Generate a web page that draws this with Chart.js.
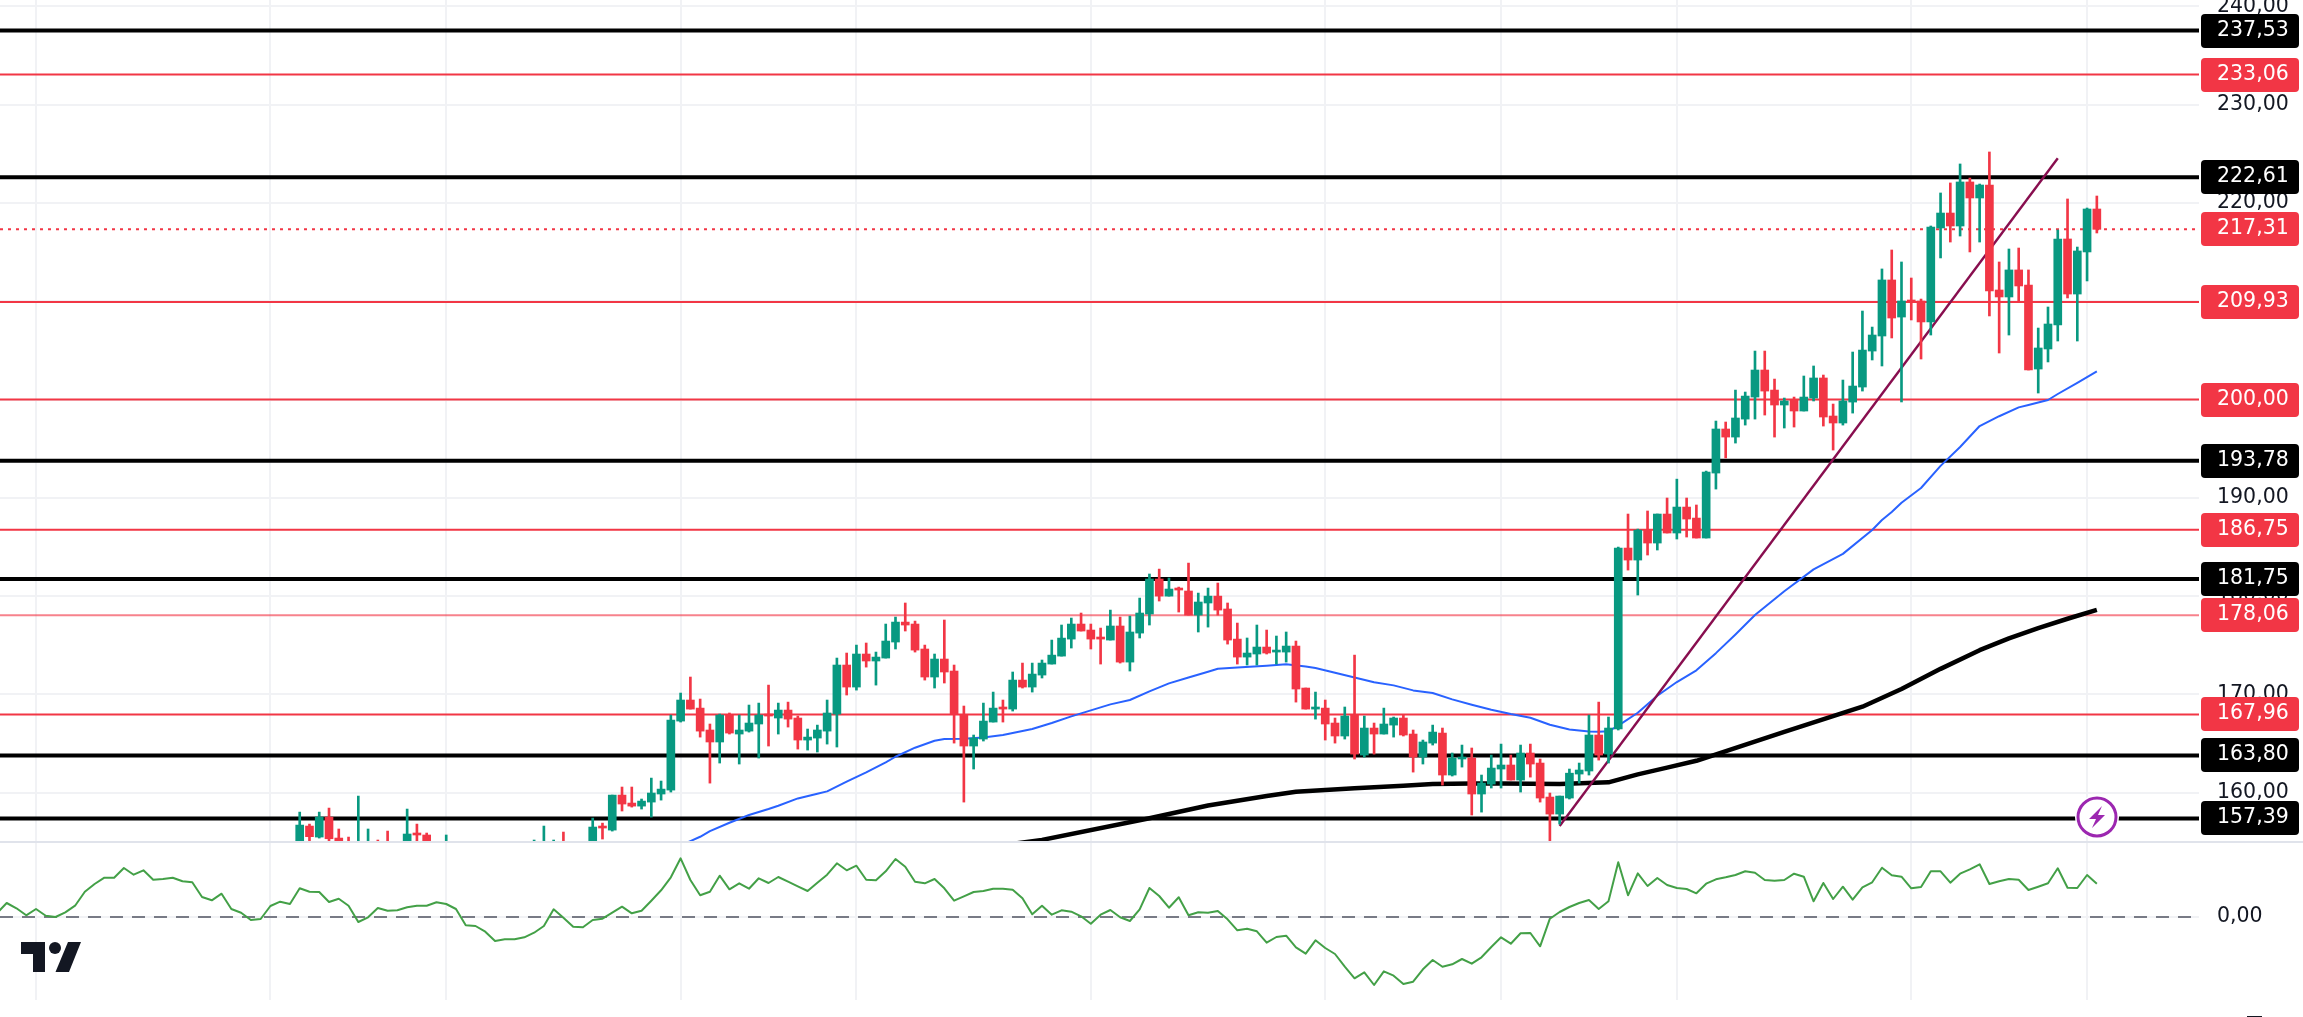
<!DOCTYPE html>
<html><head><meta charset="utf-8">
<style>
html,body{margin:0;padding:0;background:#fff;overflow:hidden}
#wrap{position:relative;width:2303px;height:1017px;background:#fff}
canvas{position:absolute;left:0;display:block}
#top{top:0}
#sep{position:absolute;left:0;top:841px;width:2303px;height:2px;background:#e0e3eb}
#low{top:843px}
</style>
<script src="https://cdn.jsdelivr.net/npm/chart.js@4"></script>
</head><body>
<div id="wrap">
<canvas id="top" width="2303" height="841"></canvas>
<div id="sep"></div>
<canvas id="low" width="2303" height="174"></canvas>
</div>
<script>
// ---------- data ----------
const firstCandle = 31;
const opens = [
154.17,156.61,155.49,157.52,155.39,154.9,154.2,154.4,154.9,154.9,
null,154.17,155.9,155.7,null,154.3,null,null,null,null,
null,null,null,null,154.4,154.3,154.4,154.9,null,null,
154.17,156.61,156.2,159.76,158.95,158.64,159.05,159.87,160.27,167.29,
169.43,168.61,166.38,165.16,167.9,165.97,166.27,166.99,168.0,167.6,
168.41,167.6,165.36,165.56,166.27,168.0,172.99,170.75,174.11,173.4,
173.7,175.33,177.36,177.16,174.62,171.77,173.6,172.38,167.9,164.75,
165.46,167.19,168.72,168.51,171.46,170.75,171.97,173.09,173.9,175.63,
177.16,176.55,175.84,175.53,176.96,173.29,176.24,178.18,181.74,180.0,
180.82,180.52,178.07,179.3,180.0,178.69,175.63,173.8,174.11,174.82,
174.31,174.31,174.92,170.65,168.51,168.61,167.09,165.77,167.9,163.83,
166.58,165.97,166.88,167.6,165.97,163.63,165.05,166.07,161.8,163.43,
163.53,159.87,160.88,162.41,162.82,161.29,164.04,163.02,159.56,157.83,
159.46,161.9,162.21,165.87,163.93,166.48,184.89,183.67,186.72,185.4,
188.35,186.42,189.06,187.94,185.91,192.52,197.0,196.18,198.01,200.25,
203.0,200.96,199.44,199.95,198.83,200.15,202.19,198.32,197.61,199.74,
201.27,204.93,206.46,212.16,208.39,210.12,210.02,207.89,217.45,218.97,
217.65,222.13,220.5,221.82,211.14,210.43,213.18,211.65,203.1,205.14,
207.58,216.33,210.73,215.01,219.38];
const highs = [
158.03,156.81,158.03,158.44,156.31,155.49,159.66,156.31,155.19,156.1,
null,158.34,156.81,155.9,null,155.7,null,null,null,null,
null,null,null,null,155.19,156.61,155.19,156.0,null,null,
157.42,156.91,159.76,160.58,160.58,159.36,161.49,161.19,167.9,170.14,
171.77,169.53,166.99,168.0,168.11,167.9,168.92,169.12,170.95,169.12,
169.22,167.8,166.48,166.88,169.43,173.7,174.21,175.02,175.23,174.31,
177.16,177.87,179.3,177.46,175.02,174.11,177.57,172.99,168.82,165.87,
169.12,170.24,169.43,172.28,173.19,173.19,173.5,175.53,177.06,177.77,
178.28,177.16,176.75,178.58,177.87,177.97,179.8,182.25,182.75,181.84,
180.92,183.36,180.31,180.82,181.33,179.3,177.26,175.74,177.06,176.55,
175.94,176.35,175.43,170.65,170.24,169.43,167.6,168.72,174.0,167.8,
167.09,168.61,167.7,167.9,166.38,165.36,166.88,166.58,164.04,164.85,
164.55,161.8,163.83,164.95,163.83,164.85,164.95,163.43,159.97,159.66,
162.41,163.02,167.9,169.22,167.7,184.99,188.35,186.82,188.66,188.35,
189.98,191.9,189.98,189.27,192.72,197.81,197.71,200.96,200.76,204.93,
204.93,202.08,200.15,200.25,202.39,203.41,202.49,199.54,201.98,204.83,
209.0,207.37,213.28,215.21,213.99,212.36,210.22,217.65,221.01,222.03,
223.96,222.53,221.92,225.18,213.99,215.31,215.41,213.18,207.27,209.41,
217.24,220.4,215.51,219.48,220.7];
const lows = [
153.83,154.85,155.39,155.0,154.17,154.0,153.9,154.0,154.0,153.8,
null,153.9,154.85,153.9,null,154.0,null,null,null,null,
null,null,null,null,154.1,154.0,154.1,154.0,null,null,
153.9,155.29,156.1,158.14,158.54,158.34,157.52,159.25,160.07,167.19,
168.51,165.66,160.98,163.02,165.97,162.92,166.17,163.53,164.75,165.97,
166.68,164.44,164.34,164.14,164.95,164.65,169.94,170.44,172.78,170.95,
173.7,174.62,176.45,174.31,171.46,170.65,171.16,165.05,159.05,162.41,
165.26,167.19,167.19,168.31,170.65,170.24,171.67,173.09,173.9,174.72,
176.45,174.62,173.09,175.53,173.19,172.38,175.74,177.06,179.5,180.0,
178.38,178.07,176.35,176.85,178.07,175.12,173.09,172.99,172.99,174.11,
173.09,173.29,169.22,168.51,167.49,165.36,165.05,165.46,163.43,163.63,
163.93,165.97,165.66,165.77,162.1,162.92,164.85,160.78,161.7,162.61,
157.73,158.03,160.48,160.48,161.29,160.07,161.59,159.05,155.08,156.81,
159.36,160.98,161.8,163.32,163.02,166.38,182.65,180.11,184.18,184.69,
186.42,185.81,186.01,185.91,185.91,190.89,194.05,195.57,197.4,198.01,
198.42,196.18,197.1,197.2,198.83,199.85,197.3,194.86,197.4,198.62,
200.86,204.02,203.41,206.26,199.75,208.09,204.12,206.56,214.4,216.02,
216.63,215.01,216.02,208.5,204.73,206.56,209.92,203.0,200.66,203.82,
205.95,210.33,205.95,212.06,216.94];
const closes = [
156.71,155.53,157.52,155.32,154.85,154.3,154.8,154.9,154.3,154.2,
null,155.8,155.7,154.17,null,154.9,null,null,null,null,
null,null,null,null,154.9,154.9,154.9,154.3,null,null,
156.51,156.41,159.76,158.85,158.64,159.15,159.97,160.37,167.39,169.43,
168.51,166.27,165.16,167.9,166.07,166.38,167.09,167.9,167.8,168.41,
167.49,165.36,165.66,166.38,168.11,172.99,170.75,174.11,173.4,173.8,
175.43,177.36,177.06,174.51,171.77,173.6,172.28,168.0,164.75,165.56,
167.29,168.61,168.51,171.46,170.75,172.07,173.19,174.0,175.73,177.16,
176.45,175.63,175.63,176.96,173.29,176.35,178.28,181.74,180.0,180.72,
180.62,178.07,179.4,180.0,178.58,175.53,173.8,174.21,174.82,174.21,
174.51,174.92,170.55,168.51,168.72,166.99,165.77,167.8,163.93,166.58,
165.97,166.99,167.6,165.87,163.63,165.16,166.17,161.8,163.53,163.63,
159.87,160.98,162.51,162.82,161.29,164.04,162.92,159.46,157.83,159.66,
161.99,162.31,165.87,163.83,166.58,184.89,183.67,186.72,185.4,188.35,
186.42,189.06,187.84,185.91,192.62,197.0,196.18,198.12,200.35,203.0,
200.86,199.44,199.85,198.83,200.25,202.19,198.22,197.61,199.85,201.37,
205.03,206.56,212.16,208.29,210.02,209.92,207.89,217.55,218.97,217.65,
222.13,220.5,221.82,211.04,210.43,213.18,211.55,203.0,205.24,207.68,
216.33,210.73,215.11,219.38,217.31];

const blueIndex = [69,71,72,73,75,77,79,80,82,84,85,87,89,91,92,94,96,97,99,101,103,106,108,110,112,114,116,118,120,122,124,125,127,130,132,134,135,137,139,141,143,145,147,149,151,153,155,157,159,161,163,164,165,166,168,170,172,174,176,178,180,183,186,189,192,193,194,195,197,199,201,203,205,207,208,210,211,213,215];
const blueValues = [154.2,155.08,155.52,156.1,156.95,157.73,158.34,158.68,159.42,159.9,160.14,161.12,162.07,163.09,163.66,164.58,165.29,165.46,165.49,165.63,165.87,166.48,167.09,167.77,168.38,168.99,169.43,170.31,171.12,171.73,172.31,172.62,172.75,172.92,173.06,172.85,172.68,172.21,171.73,171.23,170.92,170.41,170.14,169.5,168.95,168.44,168.0,167.63,166.92,166.44,166.24,166.2,166.25,166.82,168.14,169.87,171.26,172.45,174.2,176.1,178.08,180.5,182.72,184.3,186.72,187.74,188.55,189.5,191.0,193.25,195.17,197.3,198.3,199.2,199.44,199.95,200.56,201.7,202.87];

const blackMaIndex = [104,107,118,124,130,133,139,144,147,151,154,160,165,168,171,174,183,191,195,199,203,206,209,212,215];
const blackMaValues = [154.8,155.2,157.4,158.7,159.66,160.1,160.45,160.71,160.88,160.95,160.95,160.88,161.06,161.87,162.55,163.25,166.2,168.75,170.55,172.6,174.5,175.7,176.75,177.7,178.6];

const trendIndex = [160,211];
const trendValues = [156.61,224.54];

const redLevels = [233.06,209.93,200.00,186.75,178.06,167.96];
const blackLevels = [237.53,222.61,193.78,181.75,163.80,157.39];
const lastPrice = 217.31;
const priceTicks = [160,170,180,190,200,210,220,230,240];
const timeGridIndex = [4,28,46,70,88,112,136,154,172,196,214];

const oscTicks = [0];
const oscValues = [3.7,14,8.7,1.7,8,1.3,0,4.7,11.3,25.3,33,39.3,39.3,49,42.3,46.7,37.3,38,39.3,35.7,34.7,20,16.7,23.3,8,4.3,-3,-2,11,15.3,13,28.7,25.3,25,15,18.3,11.3,-5,-0.3,9,6.3,6.7,9.7,11.3,11.3,14.7,13,8,-8.3,-9,-14.7,-24,-22.3,-22.3,-20.3,-15.7,-9,7.7,-0.7,-9.7,-10.3,-3,
-1.7,4.3,10.3,3.7,6.3,16.3,26.7,39.7,58.7,37,21.7,25.3,41.3,27.7,33.7,28.3,38.7,34,40,35.3,30.7,26,34.3,42.3,53.7,46.7,51.3,37.3,36.7,45.7,58,50.3,35.3,33.7,38,28.7,16.3,20.7,25,26,28.3,28.3,27.3,18.7,2.7,11.3,2.3,6.7,5.3,0.7,-6.7,2.3,7,-0.3,-4,7.7,29,21,9.3,19.7,1.7,4.7,4.3,6,-2.3,-13.3,-11.7,-14.3,-25.7,-20,-18.7,-30.3,-36.7,-23.3,-31,-37,-49.7,-61.3,-55.3,-68,-54.3,-58.7,
-67,-64.7,-52.3,-43,-49.7,-47.3,-42,-46.7,-40.3,-30,-20.3,-26.7,-16.3,-16,-29.3,-1.7,5,10,14,17,8,15.7,54.7,21.7,43.7,31,39,32,29,28,23.7,33.3,37.7,39.7,42,45.7,44.3,37,36.3,37,43.3,40.3,15.7,34,18,30.3,17.3,29.7,34.7,49.3,41.7,40.3,28.7,30,45.7,45.7,34.3,43.3,47.7,52.7,33,35.7,38,37.3,27,30.3,33.7,48.7,29.3,29,42,33.3];

// ---------- styles ----------
const UP='#089981', DOWN='#f23645', BLUE='#2962ff', GRID='#f1f2f5', PURPLE='#880e4f', TXT='#131722';
const FONT='"DejaVu Sans"';
const xMin=0.3143, xMax=225.46;
const fmt=v=>v.toFixed(2).replace('.',',');

const wicks=[],bodies=[],wickCol=[],bodyCol=[];
opens.forEach((o,k)=>{
  if(o===null) return;
  const x=firstCandle+k, c=closes[k], col=c>=o?UP:DOWN;
  wicks.push({x,y:[lows[k],highs[k]]}); wickCol.push(col);
  bodies.push({x,y:[o,c]}); bodyCol.push(col);
});
const pairs=(xs,ys)=>xs.map((x,k)=>({x,y:ys[k]}));
const flat=v=>[{x:xMin,y:v},{x:xMax,y:v}];
const lineDs=(data,color,w,order,extra)=>Object.assign({type:'line',data,borderColor:color,borderWidth:w,pointRadius:0,tension:0,order,fill:false,borderCapStyle:'butt',borderJoinStyle:'round'},extra||{});

const datasets=[
  {type:'bar',data:bodies,backgroundColor:bodyCol,barThickness:8,grouped:false,order:0,minBarLength:2},
  {type:'bar',data:wicks,backgroundColor:wickCol,barThickness:2,grouped:false,order:1},
  lineDs(pairs(trendIndex,trendValues),PURPLE,2.4,2),
  lineDs(pairs(blueIndex,blueValues),BLUE,2,3),
  lineDs(pairs(blackMaIndex,blackMaValues),'#000',4.5,4),
  lineDs(flat(lastPrice),DOWN,2,5,{borderDash:[3,5]})
];
redLevels.forEach(v=>datasets.push(lineDs(flat(v),v===178.06?'rgba(242,54,69,0.62)':DOWN,2,6)));
blackLevels.forEach(v=>datasets.push(lineDs(flat(v),'#000',4,6)));

function roundBox(ctx,x,y,w,h,r){ctx.beginPath();ctx.roundRect(x,y,w,h,r);ctx.fill();}

const overlay={id:'overlay',afterDraw(chart){
  const ctx=chart.ctx,sy=chart.scales.y;
  ctx.save();
  // lightning marker
  const cx=2097,cy=817;
  ctx.fillStyle='#fff';ctx.beginPath();ctx.arc(cx,cy,22,0,Math.PI*2);ctx.fill();
  ctx.strokeStyle='#9c27b0';ctx.lineWidth=3;ctx.beginPath();ctx.arc(cx,cy,19,0,Math.PI*2);ctx.stroke();
  ctx.fillStyle='#9c27b0';ctx.beginPath();
  ctx.moveTo(cx+5,cy-11);ctx.lineTo(cx-8,cy+2);ctx.lineTo(cx-1,cy+2);ctx.lineTo(cx-5,cy+11);
  ctx.lineTo(cx+8,cy-2);ctx.lineTo(cx+1,cy-2);ctx.closePath();ctx.fill();
  // badges
  ctx.font='20.5px '+FONT;ctx.textBaseline='middle';ctx.textAlign='left';
  const badge=(v,col)=>{
    const y=Math.round(sy.getPixelForValue(v));
    ctx.fillStyle=col;roundBox(ctx,2201,y-17,98,34,4);
    ctx.fillStyle='#fff';ctx.fillText(fmt(v),2217,y);
  };
  redLevels.forEach(v=>badge(v,DOWN));
  badge(lastPrice,DOWN);
  blackLevels.forEach(v=>badge(v,'#000'));
  ctx.restore();
}};

new Chart(document.getElementById('top'),{
  type:'bar',
  data:{datasets},
  plugins:[overlay],
  options:{
    responsive:false,animation:false,events:[],
    layout:{padding:0},
    plugins:{legend:{display:false},tooltip:{enabled:false}},
    scales:{
      x:{type:'linear',offset:false,min:xMin,max:xMax,
        afterBuildTicks(a){a.ticks=timeGridIndex.map(value=>({value}));},
        afterFit(a){a.height=0;a.paddingLeft=0;a.paddingRight=0;},
        ticks:{display:false},border:{display:false},
        grid:{offset:false,color:GRID,lineWidth:2,drawTicks:false}},
      y:{type:'linear',position:'right',min:155.09,max:240.64,
        afterBuildTicks(a){a.ticks=priceTicks.map(value=>({value}));},
        afterFit(a){a.width=104;a.paddingTop=0;a.paddingBottom=0;},
        border:{display:false},
        grid:{color:GRID,lineWidth:2,drawTicks:false},
        ticks:{padding:18,color:TXT,font:{family:FONT,size:20.5},autoSkip:false,maxRotation:0,callback:v=>fmt(v)}}
    }
  }
});

const logo={id:'logo',afterDraw(chart){
  const ctx=chart.ctx;ctx.save();ctx.fillStyle=TXT;
  const o=-843;
  ctx.beginPath();ctx.moveTo(21,942+o);ctx.lineTo(45,942+o);ctx.lineTo(45,972+o);ctx.lineTo(33,972+o);ctx.lineTo(33,954+o);ctx.lineTo(21,954+o);ctx.closePath();ctx.fill();
  ctx.beginPath();ctx.arc(55,948+o,6,0,Math.PI*2);ctx.fill();
  ctx.beginPath();ctx.moveTo(68,942+o);ctx.lineTo(81,942+o);ctx.lineTo(69,972+o);ctx.lineTo(55.5,972+o);ctx.closePath();ctx.fill();
  ctx.fillRect(2247,1016+o,15,1);
  ctx.restore();
}};

new Chart(document.getElementById('low'),{
  type:'line',
  data:{datasets:[
    {data:oscValues.map((y,x)=>({x,y})),borderColor:'#43a047',borderWidth:2,pointRadius:0,tension:0,order:0,borderJoinStyle:'round'},
    {data:[{x:xMin,y:0},{x:xMax,y:0}],borderColor:'#787b86',borderWidth:2,borderDash:[13,9],pointRadius:0,order:1}
  ]},
  plugins:[logo],
  options:{
    responsive:false,animation:false,events:[],
    layout:{padding:{bottom:17}},
    plugins:{legend:{display:false},tooltip:{enabled:false}},
    scales:{
      x:{type:'linear',min:xMin,max:xMax,
        afterBuildTicks(a){a.ticks=timeGridIndex.map(value=>({value}));},
        afterFit(a){a.height=0;a.paddingLeft=0;a.paddingRight=0;},
        ticks:{display:false},border:{display:false},
        grid:{color:GRID,lineWidth:2,drawTicks:false}},
      y:{type:'linear',position:'right',min:-83,max:74,
        afterBuildTicks(a){a.ticks=oscTicks.map(value=>({value}));},
        afterFit(a){a.width=104;a.paddingTop=0;a.paddingBottom=0;},
        border:{display:false},
        grid:{color:GRID,lineWidth:2,drawTicks:false},
        ticks:{padding:18,color:TXT,font:{family:FONT,size:20.5},autoSkip:false,maxRotation:0,callback:v=>fmt(v)}}
    }
  }
});
</script>
</body></html>
